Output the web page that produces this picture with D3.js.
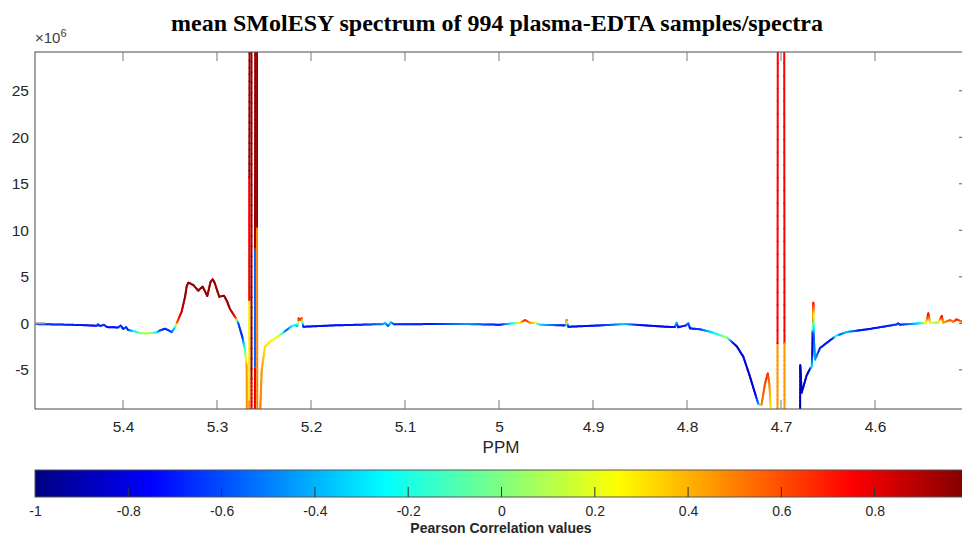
<!DOCTYPE html>
<html>
<head>
<meta charset="utf-8">
<script src="https://cdn.jsdelivr.net/npm/d3@7"></script>
<style>
  body { margin: 0; background: #fff; }
  text { font-family: "Liberation Sans", Arial, Helvetica, sans-serif; fill: #262626; }
</style>
</head>
<body>
<div id="chart"></div>
<script>
// spectrum: ppm, intensity (x1e6), Pearson correlation
var ppm = [
  5.4936, 5.4670, 5.4457, 5.4280, 5.4266, 5.4245, 5.4202, 5.4170, 5.4053, 5.4024,
  5.3997, 5.3968, 5.3944, 5.3890, 5.3819, 5.3766, 5.3691, 5.3641, 5.3606, 5.3553,
  5.3521, 5.3482, 5.3447, 5.3422, 5.3376, 5.3340, 5.3322, 5.3305, 5.3282, 5.3252,
  5.3199, 5.3170, 5.3152, 5.3103, 5.3069, 5.3046, 5.3024, 5.2976, 5.2926, 5.2894,
  5.2862, 5.2798, 5.2773, 5.2731, 5.2702, 5.2684,
  5.2676, 5.2656, 5.2656, 5.2656, 5.2656, 5.2656, 5.2656, 5.2656, 5.2649, 5.2633,
  5.2633, 5.2633, 5.2628, 5.2601, 5.2596, 5.2596, 5.2596, 5.2596, 5.2590, 5.2574,
  5.2574, 5.2574, 5.2569, 5.2553, 5.2539, 5.2524, 5.2489, 5.2436, 5.2330, 5.2259,
  5.2202, 5.2170, 5.2146, 5.2131, 5.2117, 5.2099, 5.2082, 5.1904, 5.1763, 5.1479,
  5.1231, 5.1213, 5.1181, 5.1149, 5.1117, 5.0699, 5.0344, 4.9989, 4.9848, 4.9777,
  4.9723, 4.9670, 4.9617, 4.9564, 4.9316, 4.9293, 4.9280, 4.9263, 4.8926, 4.8660,
  4.8500, 4.8216, 4.8128, 4.8110, 4.8093, 4.8011, 4.7986, 4.7968, 4.7862, 4.7755,
  4.7670, 4.7578, 4.7521, 4.7471, 4.7401, 4.7330, 4.7277, 4.7241, 4.7223, 4.7207,
  4.7170, 4.7141, 4.7124, 4.7110, 4.7096, 4.7037, 4.7037, 4.7037, 4.7030, 4.6970,
  4.6963, 4.6963, 4.6963, 4.6803, 4.6795, 4.6780, 4.6727, 4.6691, 4.6673, 4.6666,
  4.6663, 4.6661, 4.6660, 4.6659, 4.6656, 4.6651, 4.6638, 4.6585, 4.6444, 4.6407,
  4.6372, 4.6301, 4.6160, 4.6018, 4.5769, 4.5755, 4.5734, 4.5521, 4.5457, 4.5433,
  4.5415, 4.5330, 4.5290, 4.5273, 4.5202, 4.5167, 4.5131, 4.5074, 4.5011
];
var intensity = [
  -0.08, -0.13, -0.18, -0.26, -0.11, -0.29, -0.16, -0.40, -0.45, -0.24,
  -0.61, -0.40, -0.72, -0.83, -1.04, -1.08, -1.04, -0.97, -0.77, -0.58,
  -0.72, -0.94, -0.43, 0.17, 1.25, 2.83, 4.01, 4.37, 4.28, 4.12,
  3.51, 3.80, 3.94, 2.94, 4.44, 4.73, 4.33, 2.86, 2.97, 2.40,
  1.54, 0.54, 0.00, -1.44, -2.87, -4.67,
  -30, -12, -8.2, -8.2, 2.5, 2.5, 15.7, 15.7, 60, 60,
  -6, -6, -30, -30, -4.7, -4.7, 8.1, 8.1, 60, 60,
  10.2, 10.2, -30, -30, -9.0, -5.0, -2.5, -1.97, -1.26, -0.72,
  -0.27, -0.18, -0.29, 0.54, 0.36, 0.54, -0.37, -0.29, -0.22, -0.15,
  -0.08, 0.06, -0.29, 0.11, -0.10, -0.08, -0.08, -0.15, 0.00, 0.06,
  0.35, 0.06, 0.06, -0.15, -0.22, -0.20, 0.35, -0.37, -0.22, -0.08,
  -0.18, -0.37, -0.40, 0.06, -0.43, -0.22, 0.00, -0.54, -0.64, -0.90,
  -1.20, -1.51, -2.00, -2.47, -3.58, -5.73, -7.50, -8.67, -8.74, -8.74,
  -6.48, -5.40, -6.48, -8.96, -30, -30, -2.15, -2.15, 80, 80,
  -2.15, -2.15, -30, -30, -4.5, -7.45, -5.60, -4.87, -4.66, -3.0,
  -0.8, -0.8, 0.2, 0.2, 2.2, -1.5, -3.9, -2.65, -1.57, -1.30,
  -1.20, -0.93, -0.75, -0.54, -0.12, 0.00, -0.15, 0.00, 0.05, 1.07,
  0.06, 0.06, 0.78, 0.06, 0.35, 0.17, 0.43, 0.17, 0.20
];
var corr = [
  -0.65, -0.65, -0.7, -0.72, -0.6, -0.72, -0.62, -0.72, -0.72, -0.6,
  -0.72, -0.6, -0.7, -0.3, 0.0, 0.1, 0.05, -0.2, -0.6, -0.7,
  -0.65, -0.6, -0.3, 0.6, 0.85, 0.95, 0.95, 0.95, 0.95, 0.95,
  0.95, 0.95, 0.95, 0.95, 0.95, 0.95, 0.95, 0.95, 0.95, 0.95,
  0.95, 0.7, -0.6, -0.7, -0.1, 0.45,
  0.55, 0.45, 0.45, 0.28, 0.28, 0.75, 0.75, 0.95, 0.95, 0.95,
  0.95, 0.8, 0.8, 0.8, 0.8, -0.55, -0.55, 0.95, 0.95, 0.95,
  0.95, 0.5, 0.5, 0.5, 0.5, 0.45, 0.3, 0.3, 0.15, -0.6,
  -0.3, -0.1, -0.5, 0.75, 0.55, 0.75, -0.7, -0.72, -0.72, -0.7,
  -0.5, -0.3, -0.6, -0.3, -0.65, -0.7, -0.45, -0.72, -0.2, 0.25,
  0.7, 0.5, 0.3, -0.3, -0.72, -0.7, 0.75, -0.72, -0.72, -0.35,
  -0.72, -0.75, -0.72, -0.35, -0.72, -0.7, -0.5, -0.72, -0.65, -0.35,
  -0.2, 0.1, -0.6, -0.85, -0.75, -0.85, -0.8, -0.5, -0.3, 0.5,
  0.6, 0.68, 0.5, 0.3, 0.3, 0.45, 0.45, 0.75, 0.75, 0.75,
  0.75, 0.45, 0.45, -0.9, -0.9, -0.85, -0.85, -0.8, -0.3, -0.85,
  -0.85, -0.2, 0.15, 0.75, 0.75, -0.6, -0.4, -0.7, -0.7, 0.0,
  -0.6, -0.35, -0.72, -0.72, -0.65, -0.6, -0.7, -0.3, 0.2, 0.8,
  0.3, 0.0, 0.8, 0.4, 0.6, 0.5, 0.7, 0.55, 0.5
];

var xTicks = [5.4, 5.3, 5.2, 5.1, 5, 4.9, 4.8, 4.7, 4.6];
var yTicks = [-5, 0, 5, 10, 15, 20, 25];
var cbTicks = [-1, -0.8, -0.6, -0.4, -0.2, 0, 0.2, 0.4, 0.6, 0.8];
// MATLAB jet colormap anchors
var jetStops = [-1, -0.75, -0.25, 0.25, 0.75, 1];
var jetColors = ['#000080', '#0000ff', '#00ffff', '#ffff00', '#ff0000', '#800000'];

var chart_width = 962;
var chart_height = 539;
var plot = {left: 35, top: 52, right: 969, bottom: 409};

// matlab prints a plain hyphen for negatives
var fmt = function(d) { return String(d); };

var svg = d3.select('#chart')
  .append('svg')
  .attr('width', chart_width)
  .attr('height', chart_height);

var x_scale = d3.scaleLinear()
  .domain([5.4936, 4.5])
  .range([plot.left, plot.right]);

var y_scale = d3.scaleLinear()
  .domain([-9.21, 29.17])
  .range([plot.bottom, plot.top]);

var jet = d3.scaleLinear()
  .domain(jetStops)
  .range(jetColors)
  .clamp(true);

// title
svg.append('text')
  .attr('x', 497)
  .attr('y', 31)
  .attr('text-anchor', 'middle')
  .style('font-family', '"Liberation Serif", "Times New Roman", serif')
  .style('font-weight', 'bold')
  .style('font-size', '24px')
  .style('fill', '#000')
  .text('mean SMolESY spectrum of 994 plasma-EDTA samples/spectra');

svg.append('defs').append('clipPath')
  .attr('id', 'plot-clip')
  .append('rect')
  .attr('x', plot.left)
  .attr('y', plot.top)
  .attr('width', plot.right - plot.left)
  .attr('height', plot.bottom - plot.top);

// colored spectrum: each segment split so the colour interpolates like the matlab surface trick
var segs = [];
for (var i = 0; i < ppm.length - 1; i++) {
  var x0 = x_scale(ppm[i]), y0 = y_scale(intensity[i]);
  var x1 = x_scale(ppm[i + 1]), y1 = y_scale(intensity[i + 1]);
  var len = Math.hypot(x1 - x0, y1 - y0);
  var n = Math.max(1, Math.min(60, Math.ceil(len / 2)));
  for (var k = 0; k < n; k++) {
    var t0 = k / n, t1 = (k + 1) / n;
    segs.push({
      x0: x0 + (x1 - x0) * t0, y0: y0 + (y1 - y0) * t0,
      x1: x0 + (x1 - x0) * t1, y1: y0 + (y1 - y0) * t1,
      c: corr[i] + (corr[i + 1] - corr[i]) * (t0 + t1) / 2
    });
  }
}

svg.append('g')
  .attr('clip-path', 'url(#plot-clip)')
  .selectAll('line')
  .data(segs)
  .enter()
  .append('line')
  .attr('x1', function(d) { return d.x0; })
  .attr('y1', function(d) { return d.y0; })
  .attr('x2', function(d) { return d.x1; })
  .attr('y2', function(d) { return d.y1; })
  .attr('stroke', function(d) { return jet(d.c); })
  .attr('stroke-width', 2)
  .attr('stroke-linecap', 'round');

// axes box
svg.append('rect')
  .attr('x', plot.left)
  .attr('y', plot.top)
  .attr('width', plot.right - plot.left)
  .attr('height', plot.bottom - plot.top)
  .attr('fill', 'none')
  .attr('stroke', '#4a4a4a')
  .attr('stroke-width', 1);

// x labels, ticks inside on bottom and top
var x_axis = d3.axisBottom(x_scale)
  .tickValues(xTicks)
  .tickSize(0)
  .tickPadding(12)
  .tickFormat(fmt);
svg.append('g')
  .attr('class', 'x-axis')
  .attr('transform', 'translate(0,' + plot.bottom + ')')
  .call(x_axis)
  .call(function(g) { g.select('.domain').remove(); })
  .selectAll('text')
  .style('font-size', '15.5px')
  .style('fill', '#262626');

[plot.bottom, plot.top].forEach(function(yy, j) {
  svg.append('g')
    .selectAll('line')
    .data(xTicks)
    .enter()
    .append('line')
    .attr('x1', function(d) { return x_scale(d); })
    .attr('x2', function(d) { return x_scale(d); })
    .attr('y1', yy)
    .attr('y2', j === 0 ? yy - 9 : yy + 9)
    .attr('stroke', '#777');
});

// y labels
var y_axis = d3.axisLeft(y_scale)
  .tickValues(yTicks)
  .tickSize(0)
  .tickPadding(6)
  .tickFormat(fmt);
svg.append('g')
  .attr('class', 'y-axis')
  .attr('transform', 'translate(' + plot.left + ',0)')
  .call(y_axis)
  .call(function(g) { g.select('.domain').remove(); })
  .selectAll('text')
  .style('font-size', '15.5px')
  .style('fill', '#262626');

// only the zero tick shows on the left, ticks on the (cut off) right side
svg.append('line')
  .attr('x1', plot.left)
  .attr('x2', plot.left + 10)
  .attr('y1', y_scale(0))
  .attr('y2', y_scale(0))
  .attr('stroke', '#999')
  .attr('stroke-width', 2);
svg.append('g')
  .selectAll('line')
  .data(yTicks)
  .enter()
  .append('line')
  .attr('x1', plot.right)
  .attr('x2', plot.right - 10)
  .attr('y1', function(d) { return y_scale(d); })
  .attr('y2', function(d) { return y_scale(d); })
  .attr('stroke', '#555');

// exponent
var expo = svg.append('text')
  .attr('x', plot.left)
  .attr('y', 43)
  .style('font-size', '15px')
  .style('fill', '#404040');
expo.append('tspan').text('\u00d710');
expo.append('tspan').attr('dy', -6).style('font-size', '11px').text('6');

svg.append('text')
  .attr('x', 501)
  .attr('y', 453)
  .attr('text-anchor', 'middle')
  .style('font-size', '17px')
  .text('PPM');

// colorbar
var cb = {left: 35, right: 968, top: 470, bottom: 497};
var cb_scale = d3.scaleLinear().domain([-1, 1]).range([cb.left, cb.right]);

var grad = svg.select('defs').append('linearGradient')
  .attr('id', 'jet-grad')
  .attr('x1', '0%').attr('x2', '100%')
  .attr('y1', '0%').attr('y2', '0%');
grad.selectAll('stop')
  .data(jetStops)
  .enter()
  .append('stop')
  .attr('offset', function(d) { return ((d + 1) / 2 * 100) + '%'; })
  .attr('stop-color', function(d, i) { return jetColors[i]; });

svg.append('rect')
  .attr('x', cb.left)
  .attr('y', cb.top)
  .attr('width', cb.right - cb.left)
  .attr('height', cb.bottom - cb.top)
  .attr('fill', 'url(#jet-grad)')
  .attr('stroke', '#555')
  .attr('stroke-width', 1);

var cb_axis = d3.axisBottom(cb_scale)
  .tickValues(cbTicks)
  .tickSize(0)
  .tickPadding(9)
  .tickFormat(fmt);
svg.append('g')
  .attr('transform', 'translate(0,' + cb.bottom + ')')
  .call(cb_axis)
  .call(function(g) { g.select('.domain').remove(); })
  .selectAll('text')
  .style('font-size', '14px')
  .style('fill', '#262626');

svg.append('g')
  .selectAll('line')
  .data(cbTicks.slice(1))
  .enter()
  .append('line')
  .attr('x1', function(d) { return cb_scale(d); })
  .attr('x2', function(d) { return cb_scale(d); })
  .attr('y1', cb.bottom)
  .attr('y2', cb.bottom - 10)
  .attr('stroke', '#333');

svg.append('text')
  .attr('x', 501)
  .attr('y', 533)
  .attr('text-anchor', 'middle')
  .style('font-size', '14px')
  .style('font-weight', 'bold')
  .text('Pearson Correlation values');
</script>
</body>
</html>
